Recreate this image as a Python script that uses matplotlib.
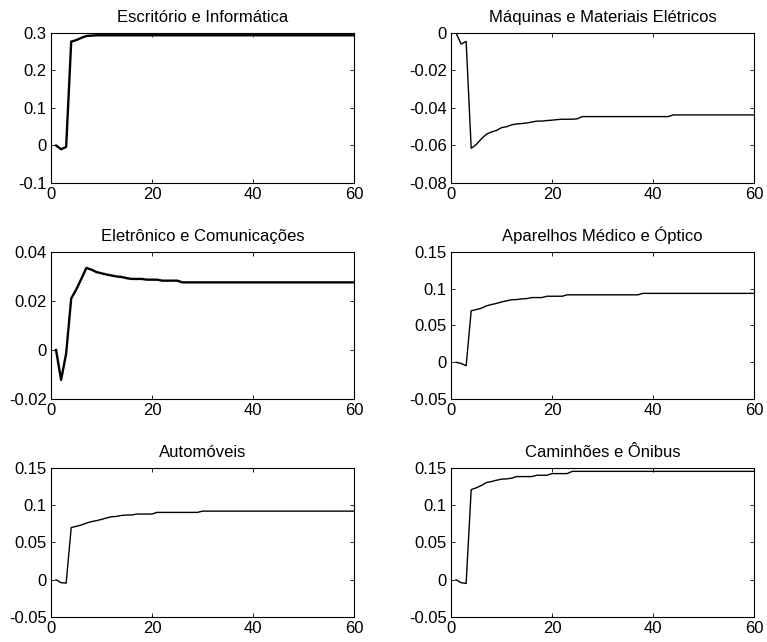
import numpy as np
import matplotlib
matplotlib.use("Agg")
import matplotlib.pyplot as plt
from matplotlib.ticker import FuncFormatter

plt.rcParams['font.family'] = ['Liberation Sans', 'DejaVu Sans']
plt.rcParams['axes.unicode_minus'] = False

periods = np.arange(1, 61)

titles = ["Escritório e Informática", "Máquinas e Materiais Elétricos",
          "Eletrônico e Comunicações", "Aparelhos Médico e Óptico",
          "Automóveis", "Caminhões e Ônibus"]

escritorio = [0, -0.010, -0.004, 0.277, 0.281, 0.287, 0.292, 0.293] + [0.294] * 52

maquinas = [0, -0.0059, -0.0045, -0.0615, -0.0595, -0.0565, -0.054, -0.0528,
            -0.052, -0.0505, -0.050, -0.049, -0.0485, -0.0483, -0.048, -0.0475,
            -0.047, -0.047, -0.0467, -0.0465, -0.0462, -0.046, -0.046, -0.046,
            -0.0458] + [-0.0446] * 18 + [-0.0437] * 17

eletronico = [0, -0.0122, -0.0014, 0.021, 0.0247, 0.029, 0.0335, 0.0328,
              0.0318, 0.0313, 0.0308, 0.0304, 0.030, 0.0298, 0.0293,
              0.029, 0.029, 0.029, 0.0287, 0.0287, 0.0287,
              0.0283, 0.0283, 0.0283, 0.0283] + [0.0276] * 35

aparelhos = [0, -0.0016, -0.0048, 0.070, 0.0717, 0.0735, 0.0767, 0.0785,
             0.080, 0.082, 0.0835, 0.085, 0.0853, 0.0862, 0.0866, 0.088,
             0.088, 0.088, 0.0898, 0.0898, 0.0898, 0.0898] + [0.0917] * 15 + [0.0937] * 23

automoveis = [0, -0.004, -0.0045, 0.070, 0.0717, 0.0735, 0.076, 0.078,
              0.0793, 0.081, 0.083, 0.0846, 0.085, 0.0864, 0.0869, 0.0869,
              0.0882, 0.0882, 0.0882, 0.0882] + [0.0904] * 9 + [0.0921] * 31

caminhoes = [0, -0.004, -0.005, 0.121, 0.1234, 0.1265, 0.1305, 0.1318,
             0.1336, 0.135, 0.1354, 0.1363, 0.1385, 0.1385, 0.1385, 0.1385,
             0.1403, 0.1403, 0.1403, 0.1425, 0.1425, 0.1425, 0.1425] + [0.1455] * 37

series = [escritorio, maquinas, eletronico, aparelhos, automoveis, caminhoes]
widths = [1.7, 1.0, 1.7, 1.0, 1.0, 1.0]
ylims = [(-0.1, 0.3), (-0.08, 0), (-0.02, 0.04), (-0.05, 0.15), (-0.05, 0.15), (-0.05, 0.15)]
ysteps = [0.1, 0.02, 0.02, 0.05, 0.05, 0.05]

fig = plt.figure(figsize=(7.67, 6.42), dpi=100)
lefts = [0.0665, 0.588]
rows = [(0.715, 0.2336), (0.3785, 0.229), (0.039, 0.232)]

fmt = FuncFormatter(lambda v, p: '%g' % round(v, 4))

for i in range(6):
    b, h = rows[i // 2]
    ax = fig.add_axes([lefts[i % 2], b, 0.395, h])
    ax.plot(periods, series[i], color='black', lw=widths[i])
    ax.set_xlim(0, 60)
    ax.set_ylim(*ylims[i])
    ax.set_xticks([0, 20, 40, 60])
    lo, hi = ylims[i]
    ax.set_yticks(np.arange(lo, hi + ysteps[i] / 2, ysteps[i]))
    ax.yaxis.set_major_formatter(fmt)
    ax.tick_params(direction='in', top=True, right=True, length=3, width=0.6,
                   labelsize=12, pad=3)
    for s in ax.spines.values():
        s.set_linewidth(0.8)
    ax.set_title(titles[i], fontsize=12, pad=8)

fig.savefig("out.png", dpi=100)
